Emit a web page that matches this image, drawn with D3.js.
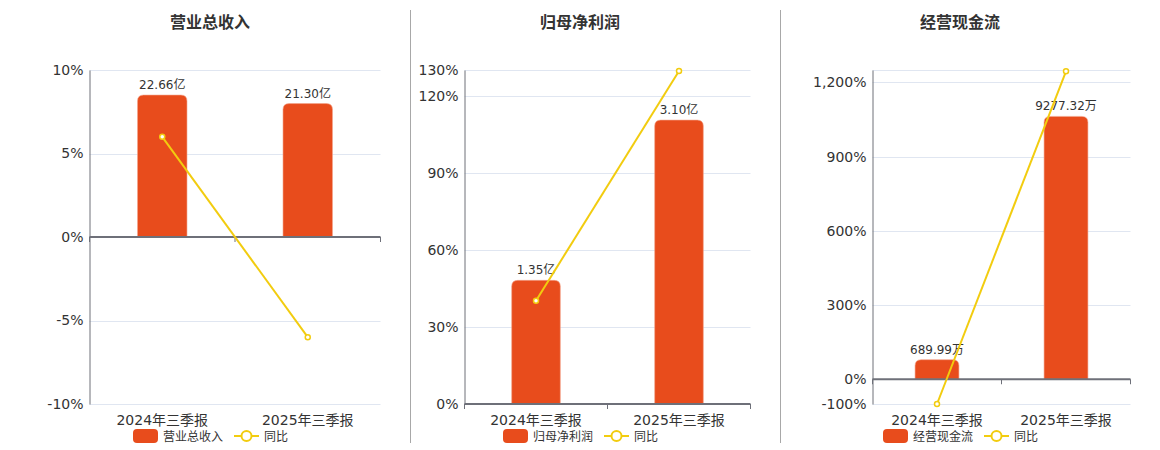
<!DOCTYPE html>
<html>
<head>
<meta charset="utf-8">
<script src="https://cdn.jsdelivr.net/npm/d3@7"></script>
<style>
  body { margin: 0; background: #fff; }
  svg text { font-family: "DejaVu Sans", "Noto Sans CJK SC", sans-serif; }
</style>
</head>
<body>
<svg id="chart" width="1160" height="450"></svg>
<script>
// data
var categories = ["2024年三季报", "2025年三季报"];
var titles = ["营业总收入", "归母净利润", "经营现金流"];

var revenue = [22.66, 21.30];          // 亿
var revenueYoy = [6.0, -6.0];          // %
var revenueTicks = [-10, -5, 0, 5, 10];

var profit = [1.35, 3.10];             // 亿
var profitYoy = [40.2, 129.6];
var profitTicks = [0, 30, 60, 90, 120, 130];

var cashflow = [689.99, 9277.32];      // 万
var cashYoy = [-100, 1244.5];
var cashTicks = [-100, 0, 300, 600, 900, 1200, 1250];

var units = ["亿", "亿", "万"];

var barColor = "#e84c1c";
var lineColor = "#f2cc0f";

var panels = [
  {title: titles[0], bars: revenue, yoy: revenueYoy, ticks: revenueTicks, domain: [-10, 10], unit: units[0],
   center: 210, left: 89.5, right: 380.5, showTop: true},
  {title: titles[1], bars: profit, yoy: profitYoy, ticks: profitTicks, domain: [0, 130], unit: units[1],
   center: 580, left: 464.5, right: 750.5, showTop: true},
  {title: titles[2], bars: cashflow, yoy: cashYoy, ticks: cashTicks, domain: [-100, 1250], unit: units[2],
   center: 960, left: 872.5, right: 1130.5, showTop: false}
];

var plotTop = 70, plotBottom = 404;
var svg = d3.select("#chart");

// dividers between panels
[410.5, 780.5].forEach(function(xd) {
  svg.append("line").attr("x1", xd).attr("x2", xd).attr("y1", 10).attr("y2", 443)
    .attr("stroke", "#a8a8a8").attr("stroke-width", 1);
});

// plain hyphen for negatives, like the original
var fmt = d3.formatLocale({decimal: ".", thousands: ",", grouping: [3], currency: ["", ""], minus: "-"}).format(",");

panels.forEach(function(p) {
  var g = svg.append("g");

  g.append("text")
    .attr("x", p.center).attr("y", 28)
    .attr("text-anchor", "middle")
    .style("font-size", "16px").style("font-weight", "bold")
    .attr("fill", "#333")
    .text(p.title);

  var x = d3.scaleBand().domain(categories).range([p.left, p.right]);
  var y = d3.scaleLinear().domain(p.domain).range([plotBottom, plotTop]);
  var zeroY = y(0);
  var yb = d3.scaleLinear().domain([0, d3.max(p.bars) / 0.85]).range([zeroY, plotTop]);

  // grid
  g.selectAll(".grid").data(p.ticks.filter(function(t) { return t !== 0; }))
    .enter().append("line")
    .attr("x1", p.left).attr("x2", p.right)
    .attr("y1", function(d) { return Math.round(y(d)) + 0.5; })
    .attr("y2", function(d) { return Math.round(y(d)) + 0.5; })
    .attr("stroke", "#e0e6f1");

  // y axis
  var yAxis = d3.axisLeft(y)
    .tickValues(p.showTop ? p.ticks : p.ticks.filter(function(t) { return t !== p.domain[1]; }))
    .tickSize(0).tickPadding(6)
    .tickFormat(function(d) { return fmt(d) + "%"; });
  var ya = g.append("g").attr("transform", "translate(" + p.left + ",0)").call(yAxis);
  ya.select(".domain").attr("stroke", "#6e7079");
  ya.selectAll("text").attr("fill", "#333").style("font-size", "14px");

  // bars
  var bw = x.bandwidth() * 0.34;
  g.selectAll(".bar").data(p.bars).enter().append("path")
    .attr("d", function(d, i) {
      var cx = x(categories[i]) + x.bandwidth() / 2;
      var x0 = cx - bw / 2, x1 = cx + bw / 2, yt = yb(d), r = 6;
      return "M" + x0 + "," + zeroY + "V" + (yt + r) + "Q" + x0 + "," + yt + " " + (x0 + r) + "," + yt +
             "H" + (x1 - r) + "Q" + x1 + "," + yt + " " + x1 + "," + (yt + r) + "V" + zeroY + "Z";
    })
    .attr("fill", barColor)
    .attr("stroke", "#f3a58c").attr("stroke-width", 0.6);

  g.selectAll(".blabel").data(p.bars).enter().append("text")
    .attr("x", function(d, i) { return x(categories[i]) + x.bandwidth() / 2; })
    .attr("y", function(d) { return yb(d) - 6; })
    .attr("text-anchor", "middle")
    .style("font-size", "12px").attr("fill", "#333")
    .text(function(d) { return d.toFixed(2) + p.unit; });

  // zero axis
  g.append("line").attr("x1", p.left).attr("x2", p.right)
    .attr("y1", zeroY).attr("y2", zeroY)
    .attr("stroke", "#6e7079").attr("stroke-width", 2);
  [p.left, x(categories[1]), p.right].forEach(function(tx) {
    g.append("line").attr("x1", tx).attr("x2", tx).attr("y1", zeroY).attr("y2", zeroY + 5)
      .attr("stroke", "#6e7079");
  });

  // category labels
  g.selectAll(".xlabel").data(categories).enter().append("text")
    .attr("x", function(d) { return x(d) + x.bandwidth() / 2; })
    .attr("y", 425)
    .attr("text-anchor", "middle")
    .style("font-size", "14px").attr("fill", "#333")
    .text(function(d) { return d; });

  // yoy line
  var line = d3.line()
    .x(function(d, i) { return x(categories[i]) + x.bandwidth() / 2; })
    .y(function(d) { return y(d); });
  g.append("path").datum(p.yoy).attr("d", line)
    .attr("fill", "none").attr("stroke", lineColor).attr("stroke-width", 2);
  g.selectAll(".pt").data(p.yoy).enter().append("circle")
    .attr("cx", function(d, i) { return x(categories[i]) + x.bandwidth() / 2; })
    .attr("cy", function(d) { return y(d); })
    .attr("r", 2.5)
    .attr("fill", "#fff").attr("stroke", lineColor).attr("stroke-width", 1.5);

  // legend
  var lx = p.center - 77, ly = 436;
  var leg = g.append("g");
  leg.append("rect").attr("x", lx).attr("y", ly - 7).attr("width", 25).attr("height", 14)
    .attr("rx", 4).attr("fill", barColor);
  leg.append("text").attr("x", lx + 30).attr("y", ly + 4.5)
    .style("font-size", "12px").attr("fill", "#333").text(p.title);
  var l2 = lx + 101;
  leg.append("line").attr("x1", l2).attr("x2", l2 + 25).attr("y1", ly).attr("y2", ly)
    .attr("stroke", lineColor).attr("stroke-width", 2);
  leg.append("circle").attr("cx", l2 + 12.5).attr("cy", ly).attr("r", 5)
    .attr("fill", "#fff").attr("stroke", lineColor).attr("stroke-width", 2);
  leg.append("text").attr("x", l2 + 30).attr("y", ly + 4.5)
    .style("font-size", "12px").attr("fill", "#333").text("同比");
});
</script>
</body>
</html>
